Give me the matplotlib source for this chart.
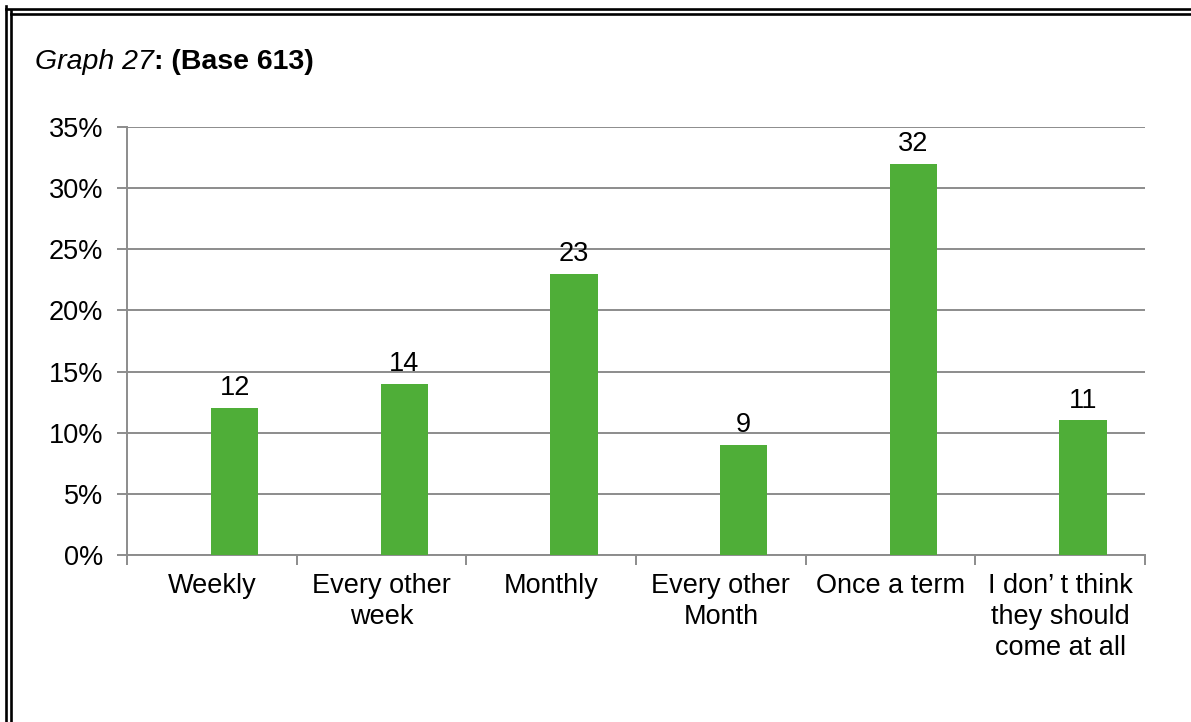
import matplotlib.pyplot as plt
from matplotlib.lines import Line2D
from matplotlib.ticker import FuncFormatter
import numpy as np

# data
categories = ["Weekly", "Every other\nweek", "Monthly", "Every other\nMonth",
              "Once a term", "I don\u2019 t think\nthey should\ncome at all"]
percent = [12, 14, 23, 9, 32, 11]
y_ticks = [0, 5, 10, 15, 20, 25, 30, 35]

plt.rcParams['font.family'] = ['Liberation Sans', 'DejaVu Sans']

W, H = 1191, 722
fs = 19.5
fig = plt.figure(figsize=(W / 100, H / 100), dpi=100)
ax = fig.add_axes([127 / W, 1 - 555 / H, (1145 - 127) / W, (555 - 127) / H])

grey = '#8c8c8c'
x = np.arange(len(categories))
# bars sit a little right of the category centre (excel cluster offset)
bx = x + 0.135
ax.bar(bx, percent, width=0.28, color='#4fae38', zorder=3)

for xi, v in zip(bx, percent):
    ax.annotate(str(v), (xi, v), xytext=(0, 5), textcoords='offset points',
                ha='center', va='bottom', fontsize=fs, color='black')

ax.set_xlim(-0.5, len(categories) - 0.5)
ax.set_ylim(0, 35)
ax.set_yticks(y_ticks)
ax.yaxis.set_major_formatter(FuncFormatter(lambda v, p: f"{v:.0f}%"))
ax.yaxis.grid(True, color=grey, linewidth=1.4, zorder=0)

ax.set_xticks(x)
ax.set_xticklabels(categories, fontsize=fs, linespacing=1.25)
ax.set_xticks(np.arange(-0.5, len(categories)), minor=True)
ax.tick_params(axis='x', which='major', length=0, pad=13)
ax.tick_params(axis='x', which='minor', length=7, width=1.4, color=grey)
ax.tick_params(axis='y', length=7, width=1.4, color=grey, pad=10, labelsize=fs)

for s in ['top', 'right']:
    ax.spines[s].set_visible(False)
for s in ['left', 'bottom']:
    ax.spines[s].set_color(grey)
    ax.spines[s].set_linewidth(1.4)

# title, italic part then bold part
tfs = 20.5
t1 = fig.text(35 / W, 1 - 62 / H, "Graph 27", style='italic', fontsize=tfs,
              va='center', ha='left')
fig.canvas.draw()
bb = t1.get_window_extent()
fig.text(bb.x1 / W, 1 - 62 / H, ": (Base 613)", weight='bold', fontsize=tfs,
         va='center', ha='left')

# double frame on the left and top
lw = 1.9
for px in [6, 11]:
    fig.add_artist(Line2D([px / W, px / W], [0, 1 - px / H], color='black',
                          linewidth=lw, transform=fig.transFigure))
for py in [8.5, 14]:
    off = 6 if py < 10 else 11
    fig.add_artist(Line2D([off / W, 1], [1 - py / H, 1 - py / H], color='black',
                          linewidth=lw, transform=fig.transFigure))

fig.savefig('out.png', dpi=100)
